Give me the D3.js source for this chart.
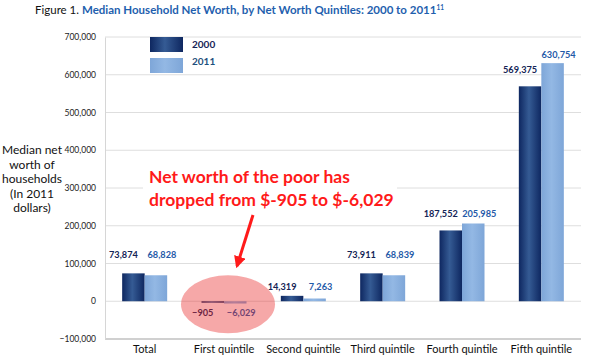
<!DOCTYPE html>
<html>
<head>
<meta charset="utf-8">
<script src="https://cdn.jsdelivr.net/npm/d3@7"></script>
<style>
  body { margin: 0; background: #fff; }
  svg { font-family: Lato, "Open Sans", sans-serif; }
</style>
</head>
<body>
<div class="chart"></div>
<script>
const categories = ["Total", "First quintile", "Second quintile", "Third quintile", "Fourth quintile", "Fifth quintile"];
const years = ["2000", "2011"];
const values2000 = [73874, -905, 14319, 73911, 187552, 569375];
const values2011 = [68828, -6029, 7263, 68839, 205985, 630754];
const yTicks = [-100000, 0, 100000, 200000, 300000, 400000, 500000, 600000, 700000];

const width = 591, height = 364;
const margin = {top: 37, right: 10, bottom: 25, left: 105};

const svg = d3.select(".chart")
    .append("svg")
    .attr("width", width)
    .attr("height", height);

// gradients for the bars
const defs = svg.append("defs");
const grad = (id, edge, mid) => {
    const g = defs.append("linearGradient").attr("id", id)
        .attr("x1", "0%").attr("x2", "100%").attr("y1", "0%").attr("y2", "0%");
    g.append("stop").attr("offset", "0%").attr("stop-color", edge);
    g.append("stop").attr("offset", "45%").attr("stop-color", mid);
    g.append("stop").attr("offset", "100%").attr("stop-color", edge);
};
grad("g2000", "#0e2760", "#355b94");
grad("g2011", "#7ea6d8", "#93b8e4");
const fills = {"2000": "url(#g2000)", "2011": "url(#g2011)"};
const labelColors = {"2000": "#142456", "2011": "#1f5aa8"};

const x0 = d3.scaleBand()
    .domain(categories)
    .range([margin.left, width - margin.right])
    .paddingInner(0)
    .paddingOuter(0);

const x1 = d3.scaleBand()
    .domain(years)
    .range([0, 45]);

const y = d3.scaleLinear()
    .domain([-100000, 700000])
    .range([339, 37]);

// title
const title = svg.append("text")
    .attr("x", 35).attr("y", 14)
    .attr("font-size", 11.5);
title.append("tspan").attr("fill", "#111").text("Figure 1. ");
title.append("tspan").attr("fill", "#1f5fae").attr("font-weight", "bold")
    .text("Median Household Net Worth, by Net Worth Quintiles: 2000 to 2011");
title.append("tspan").attr("fill", "#1f5fae").attr("font-weight", "bold")
    .attr("font-size", 6.5).attr("dy", -4).text("11");

// gridlines
svg.append("g")
    .selectAll("line")
    .data(yTicks)
    .join("line")
    .attr("x1", margin.left)
    .attr("x2", width - margin.right)
    .attr("y1", d => y(d))
    .attr("y2", d => y(d))
    .attr("stroke", d => d === -100000 ? "#d0d0d0" : "#dedede")
    .attr("stroke-width", d => d === -100000 ? 2 : 1);

// y axis
const yAxis = d3.axisLeft(y)
    .tickValues(yTicks)
    .tickFormat(d => d === 0 ? "0" : d3.format(",")(d))
    .tickSize(0)
    .tickPadding(9);

svg.append("g")
    .attr("class", "axis y-axis")
    .attr("transform", `translate(${margin.left},0)`)
    .call(yAxis)
    .call(g => g.select(".domain").attr("stroke", "#d6d6d6"))
    .call(g => g.selectAll("text").attr("font-size", 8.5).attr("fill", "#222").attr("font-family", "Lato, sans-serif"));

// x axis labels
const xAxis = d3.axisBottom(x0).tickSize(0).tickPadding(6);
svg.append("g")
    .attr("class", "axis x-axis")
    .attr("transform", `translate(0,${y(-100000)})`)
    .call(xAxis)
    .call(g => g.select(".domain").remove())
    .call(g => g.selectAll("text").attr("font-size", 11).attr("fill", "#111").attr("font-family", "Lato, sans-serif"));

// y axis title
svg.append("text")
    .attr("x", 32).attr("y", 154)
    .attr("text-anchor", "middle")
    .attr("font-size", 12)
    .attr("fill", "#111")
    .selectAll("tspan")
    .data(["Median net", "worth of", "households", "(In 2011", "dollars)"])
    .join("tspan")
    .attr("x", 32)
    .attr("dy", (d, i) => i === 0 ? 0 : 14.5)
    .text(d => d);

// bars
const rows = categories.map((c, i) => ({
    category: c,
    values: [{year: "2000", value: values2000[i]}, {year: "2011", value: values2011[i]}]
}));

const groups = svg.append("g")
    .selectAll("g")
    .data(rows)
    .join("g")
    .attr("transform", d => `translate(${x0(d.category) + x0.bandwidth() / 2 - 22.5},0)`);

groups.selectAll("rect")
    .data(d => d.values)
    .join("rect")
    .attr("x", d => x1(d.year))
    .attr("width", x1.bandwidth())
    .attr("y", d => Math.min(y(d.value), y(0)))
    .attr("height", d => Math.max(1.5, Math.abs(y(d.value) - y(0))))
    .attr("fill", d => fills[d.year]);

// value labels
groups.each(function(row) {
    const g = d3.select(this);
    const top = d3.max(row.values, v => v.value);
    const spread = Math.abs(row.values[0].value - row.values[1].value);
    g.selectAll("text.val")
        .data(row.values)
        .join("text")
        .attr("class", "val")
        .attr("x", d => x1(d.year) + x1.bandwidth() / 2 + (d.year === "2000" ? -10 : 6))
        .attr("y", d => {
            if (d.value < 0) return y(0) + 15;
            if (spread > 40000) return y(d.value) - (d.year === "2000" ? 13 : 5);
            return y(top) - (top > 50000 && top < 100000 ? 15 : 6);
        })
        .attr("text-anchor", "middle")
        .attr("font-size", 9.2)
        .attr("font-weight", "bold")
        .attr("fill", d => labelColors[d.year])
        .text(d => d3.format(",")(d.value));
});

// legend
const legend = svg.append("g");
legend.selectAll("rect")
    .data(years)
    .join("rect")
    .attr("x", 150)
    .attr("y", (d, i) => 37 + i * 21)
    .attr("width", 33)
    .attr("height", 15)
    .attr("fill", d => fills[d]);
legend.selectAll("text")
    .data(years)
    .join("text")
    .attr("x", 192)
    .attr("y", (d, i) => 48 + i * 17)
    .attr("font-size", 10)
    .attr("font-weight", "bold")
    .attr("fill", d => d === "2000" ? "#142456" : "#1d4f7c")
    .text(d => d);

// highlight around first quintile
svg.append("ellipse")
    .attr("cx", x0("First quintile") + x0.bandwidth() / 2 + 4)
    .attr("cy", y(0) + 3)
    .attr("rx", 47)
    .attr("ry", 29)
    .attr("fill", "#e82525")
    .attr("opacity", 0.4);

// annotation
svg.append("rect")
    .attr("x", 143).attr("y", 160)
    .attr("width", 254).attr("height", 52)
    .attr("fill", "#fff");

svg.append("text")
    .attr("x", 149).attr("y", 183)
    .attr("font-size", 17.5)
    .attr("font-weight", "bold")
    .attr("fill", "#ff1a1a")
    .selectAll("tspan")
    .data(["Net worth of the poor has", "dropped from $-905 to $-6,029"])
    .join("tspan")
    .attr("x", 149)
    .attr("dy", (d, i) => i === 0 ? 0 : 23)
    .text(d => d);

defs.append("marker")
    .attr("id", "arrow")
    .attr("viewBox", "0 0 10 10")
    .attr("refX", 8).attr("refY", 5)
    .attr("markerWidth", 4).attr("markerHeight", 4)
    .attr("orient", "auto")
    .append("path")
    .attr("d", "M0,0L10,5L0,10Z")
    .attr("fill", "#ff1a1a");

svg.append("line")
    .attr("x1", 253).attr("y1", 215)
    .attr("x2", 237).attr("y2", 266)
    .attr("stroke", "#ff1a1a")
    .attr("stroke-width", 3)
    .attr("marker-end", "url(#arrow)");
</script>
</body>
</html>
